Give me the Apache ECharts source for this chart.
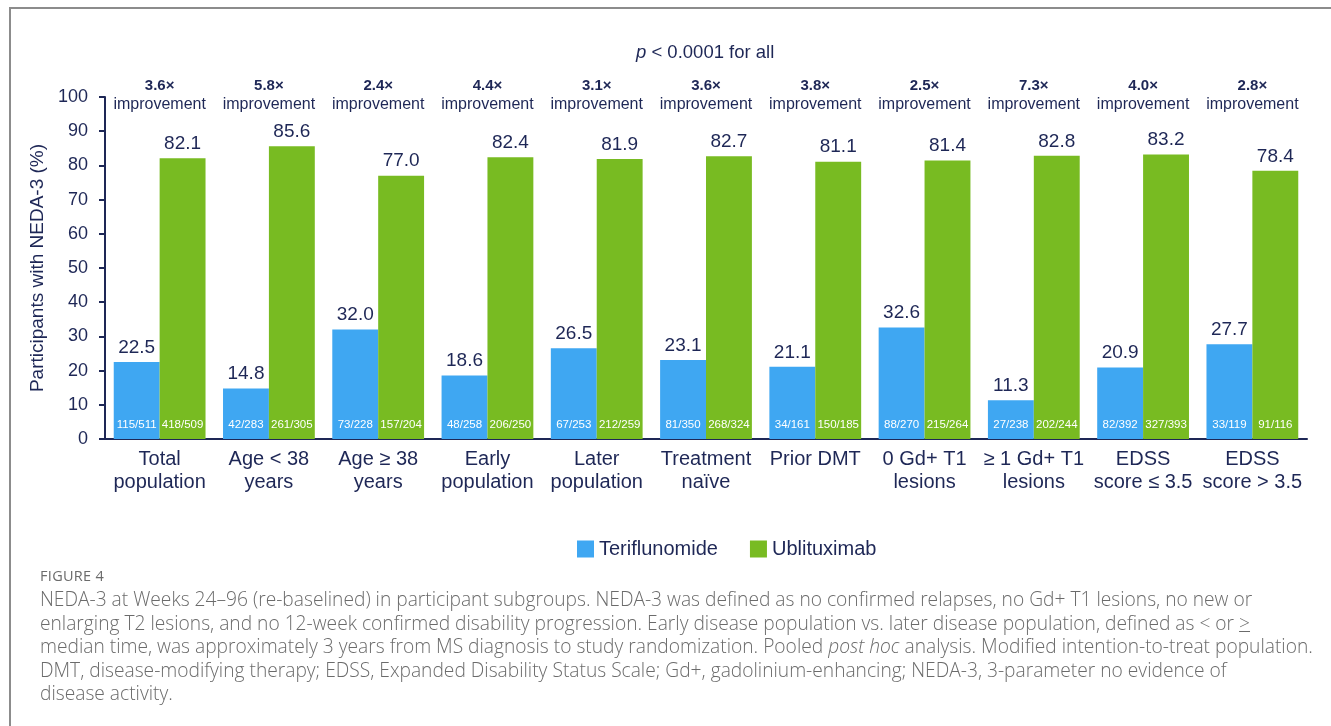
<!DOCTYPE html>
<html>
<head>
<meta charset="utf-8">
<script src="https://cdn.jsdelivr.net/npm/echarts@6/dist/echarts.min.js"></script>
<style>
  html, body { margin: 0; padding: 0; background: #fff; }
  #frame { position: absolute; left: 9px; top: 7px; width: 1330px; height: 730px;
           border-left: 2px solid #8c8c8c; border-top: 2px solid #8c8c8c; }
  #chart { position: absolute; left: 0; top: 0; width: 1331px; height: 726px; }
  #caption { position: absolute; left: 40px; top: 565px; font-family: "Open Sans", sans-serif; font-weight: 300;
             color: #6b6b6b; font-size: 19.2px; line-height: 23.5px; white-space: nowrap; }
  #caption .fig { font-size: 14.5px; letter-spacing: 0.3px; line-height: 22px; font-weight: 400; }
</style>
</head>
<body>
<div id="frame"></div>
<div id="chart"></div>
<div id="caption">
  <div class="fig">FIGURE 4</div>
  <div>NEDA-3 at Weeks 24–96 (re-baselined) in participant subgroups. NEDA-3 was defined as no confirmed relapses, no Gd+ T1 lesions, no new or</div>
  <div>enlarging T2 lesions, and no 12-week confirmed disability progression. Early disease population vs. later disease population, defined as &lt; or <u>&gt;</u></div>
  <div>median time, was approximately 3 years from MS diagnosis to study randomization. Pooled <i>post hoc</i> analysis. Modified intention-to-treat population.</div>
  <div>DMT, disease-modifying therapy; EDSS, Expanded Disability Status Scale; Gd+, gadolinium-enhancing; NEDA-3, 3-parameter no evidence of</div>
  <div>disease activity.</div>
</div>
<script>
var categories = ['Total\npopulation', 'Age < 38\nyears', 'Age ≥ 38\nyears', 'Early\npopulation', 'Later\npopulation',
    'Treatment\nnaïve', 'Prior DMT', '0 Gd+ T1\nlesions', '≥ 1 Gd+ T1\nlesions', 'EDSS\nscore ≤ 3.5', 'EDSS\nscore > 3.5'];
var teriValues = [22.5, 14.8, 32.0, 18.6, 26.5, 23.1, 21.1, 32.6, 11.3, 20.9, 27.7];
var ubliValues = [82.1, 85.6, 77.0, 82.4, 81.9, 82.7, 81.1, 81.4, 82.8, 83.2, 78.4];
var teriCounts = ['115/511', '42/283', '73/228', '48/258', '67/253', '81/350', '34/161', '88/270', '27/238', '82/392', '33/119'];
var ubliCounts = ['418/509', '261/305', '157/204', '206/250', '212/259', '268/324', '150/185', '215/264', '202/244', '327/393', '91/116'];
var improvement = ['3.6', '5.8', '2.4', '4.4', '3.1', '3.6', '3.8', '2.5', '7.3', '4.0', '2.8'];
var yTicks = { min: 0, max: 100, interval: 10 };

var navy = '#1e2756';
var blue = '#3fa7f2';
var green = '#78bb22';
var font = 'Liberation Sans, Arial, sans-serif';

var myChart = echarts.init(document.getElementById('chart'));

// n/N labels sit on transparent bars laid out on the top axis
function countSeries(name, vals, counts) {
    return {
        name: name,
        type: 'bar',
        xAxisIndex: 1,
        silent: true,
        barGap: '0%',
        barCategoryGap: '16%',
        data: vals,
        itemStyle: { color: 'rgba(0,0,0,0)' },
        label: {
            show: true,
            position: 'insideBottom',
            distance: 8,
            color: '#fff',
            fontFamily: font,
            fontSize: 11.5,
            formatter: function (p) { return counts[p.dataIndex]; }
        }
    };
}

function valueLabel() {
    return {
        show: true, position: 'top', distance: 5, color: navy, fontSize: 19, fontFamily: font,
        formatter: function (p) { return p.value.toFixed(1); }
    };
}

var option = {
    animation: false,
    textStyle: { fontFamily: font },
    title: {
        text: '{i|p} < 0.0001 for all',
        left: 631,
        top: 38,
        textStyle: {
            fontSize: 18.5, fontWeight: 'normal', color: navy, fontFamily: font,
            rich: { i: { fontStyle: 'italic', fontSize: 18.5, color: navy, fontFamily: font } }
        }
    },
    legend: {
        data: ['Teriflunomide', 'Ublituximab'],
        left: 572,
        top: 534,
        itemWidth: 17,
        itemHeight: 17,
        itemGap: 32,
        icon: 'rect',
        textStyle: { fontSize: 20, color: navy, fontFamily: font }
    },
    grid: { left: 105, right: 24, top: 97, bottom: 287 },
    xAxis: [{
        type: 'category',
        data: categories,
        axisLine: { lineStyle: { color: navy, width: 2 } },
        axisTick: { show: false },
        axisLabel: { color: navy, fontSize: 20, lineHeight: 23, margin: 9, interval: 0, fontFamily: font }
    }, {
        type: 'category',
        position: 'top',
        data: categories,
        axisLine: { show: false },
        axisTick: { show: false },
        axisLabel: {
            interval: 0,
            margin: -17,
            formatter: function (v, i) { return '{b|' + improvement[i] + '×}\n{n|improvement}'; },
            rich: {
                b: { fontSize: 15, fontWeight: 'bold', color: navy, lineHeight: 19, fontFamily: font },
                n: { fontSize: 16, color: navy, lineHeight: 19, fontFamily: font }
            }
        }
    }],
    yAxis: {
        type: 'value',
        min: yTicks.min,
        max: yTicks.max,
        interval: yTicks.interval,
        name: 'Participants with NEDA-3 (%)',
        nameLocation: 'middle',
        nameGap: 53,
        nameTextStyle: { fontSize: 19, color: navy, fontFamily: font },
        axisLine: { show: true, lineStyle: { color: navy, width: 2 } },
        axisTick: { show: true, length: 6, lineStyle: { color: navy, width: 2 } },
        axisLabel: { color: navy, fontSize: 18, margin: 17, fontFamily: font },
        splitLine: { show: false }
    },
    series: [{
        name: 'Teriflunomide',
        type: 'bar',
        data: teriValues,
        barGap: '0%',
        barCategoryGap: '16%',
        itemStyle: { color: blue },
        label: valueLabel()
    }, {
        name: 'Ublituximab',
        type: 'bar',
        data: ubliValues,
        barGap: '0%',
        barCategoryGap: '16%',
        itemStyle: { color: green },
        label: valueLabel()
    },
    countSeries('teriCounts', teriValues, teriCounts),
    countSeries('ubliCounts', ubliValues, ubliCounts)
    ]
};

myChart.setOption(option);
</script>
</body>
</html>
